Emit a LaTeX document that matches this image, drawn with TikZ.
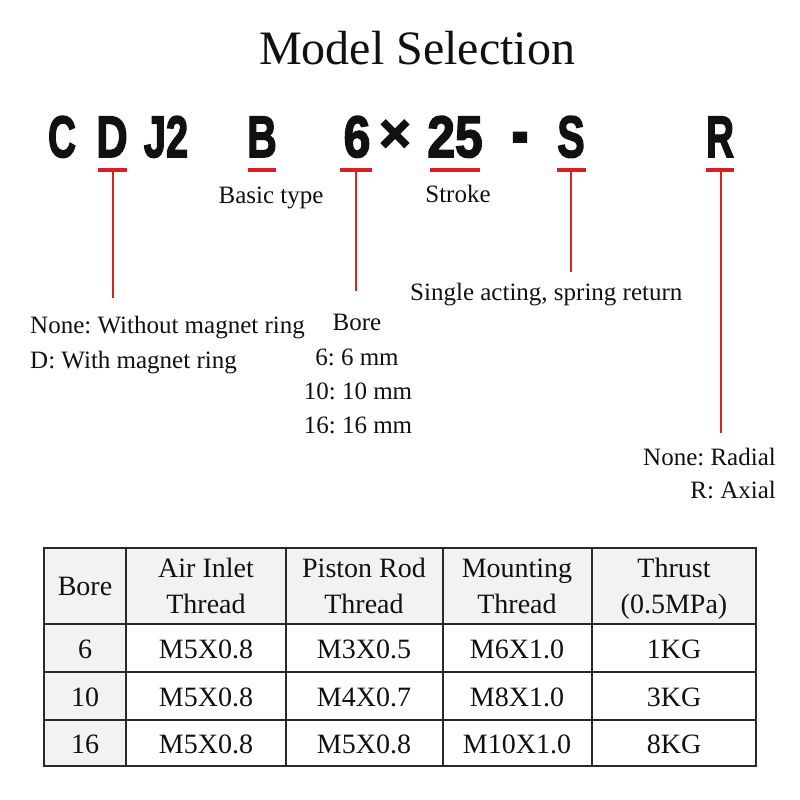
\documentclass[tikz,border=0pt]{standalone}
\usepackage{fontspec}
\setmainfont{Liberation Serif}
\newfontfamily\codefont{Liberation Sans}[BoldFeatures={FakeBold=3}]
\definecolor{linered}{RGB}{218,32,36}
\definecolor{cellgray}{RGB}{242,242,242}
\definecolor{ink}{RGB}{17,17,17}
\frenchspacing
\begin{document}
\frenchspacing
\begin{tikzpicture}[x=1pt,y=-1pt,
  lbl/.style={font=\frenchspacing\fontsize{25}{30}\selectfont, text=ink, inner sep=0pt, anchor=base},
  codech/.style={font=\codefont\bfseries\fontsize{58.5}{60}\selectfont, text=ink, inner sep=0pt, anchor=base},
  tbl/.style={font=\fontsize{28}{34}\selectfont, text=ink, inner sep=0pt, anchor=base},
  uline/.style={draw=linered, line width=3.2pt},
  vline/.style={draw=linered, line width=2.2pt},
  grid/.style={draw=ink!90, line width=1.3pt}]
\useasboundingbox (0,0) rectangle (800,800);

% title
\node[font=\fontsize{48}{56}\selectfont, text=ink, inner sep=0pt, anchor=base] (title) at (417,65) {Model Selection};

% code letters
\node[codech] (cC) at (62,157) {\scalebox{0.66}[1]{C}};
\node[codech] (cD) at (112,157) {\scalebox{0.74}[1]{D}};
\node[codech] (cJ) at (166,157) {\scalebox{0.68}[1]{J2}};
\node[codech] (cB) at (262,157) {\scalebox{0.7}[1]{B}};
\node[codech] (c6) at (357,157) {\scalebox{0.82}[1]{6}};
\node[font=\codefont\bfseries\fontsize{54}{54}\selectfont, text=ink, inner sep=0pt] (cx) at (395,136) {×};
\node[codech] (c25) at (455,157) {\scalebox{0.85}[1]{25}};
\node[codech] (cdash) at (520,157) {\scalebox{0.85}[1.3]{-}};
\node[codech] (cS) at (571,157) {\scalebox{0.7}[1]{S}};
\node[codech] (cR) at (720,157) {\scalebox{0.66}[1]{R}};

% underlines
\coordinate (uDa) at (98,170);  \coordinate (uDb) at (127,170);
\coordinate (uBa) at (248,170); \coordinate (uBb) at (276,170);
\coordinate (u6a) at (340,170); \coordinate (u6b) at (372,170);
\coordinate (u25a) at (430,170); \coordinate (u25b) at (480,170);
\coordinate (uSa) at (557,170); \coordinate (uSb) at (586,170);
\coordinate (uRa) at (706,170); \coordinate (uRb) at (734,170);
\draw[uline] (uDa) -- (uDb);
\draw[uline] (uBa) -- (uBb);
\draw[uline] (u6a) -- (u6b);
\draw[uline] (u25a) -- (u25b);
\draw[uline] (uSa) -- (uSb);
\draw[uline] (uRa) -- (uRb);

% vertical leaders
\coordinate (tD) at (113,170); \coordinate (eD) at (113,298);
\coordinate (t6) at (356,170); \coordinate (e6) at (356,291);
\coordinate (tS) at (571,170); \coordinate (eS) at (571,272);
\coordinate (tR) at (721,170); \coordinate (eR) at (721,433);
\draw[vline] (tD) -- (eD);
\draw[vline] (t6) -- (e6);
\draw[vline] (tS) -- (eS);
\draw[vline] (tR) -- (eR);

% labels
\node[lbl] (basic) at (271,203) {Basic type};
\node[lbl] (stroke) at (458,202) {Stroke};
\node[lbl, anchor=base west] (single) at (410,300) {Single acting, spring return};
\node[lbl, anchor=base west] (mag1) at (30,333) {None: Without magnet ring};
\node[lbl, anchor=base west] (mag2) at (30,368) {D: With magnet ring};
\node[lbl] (bore) at (357,330) {Bore};
\node[lbl] (b6) at (357,365) {6: 6 mm};
\node[lbl] (b10) at (358,399) {10: 10 mm};
\node[lbl] (b16) at (358,433) {16: 16 mm};
\node[lbl, anchor=base east] (rad) at (776,465) {None: Radial};
\node[lbl, anchor=base east] (ax) at (776,498) {R: Axial};

% table backgrounds
\fill[cellgray] (44,548) rectangle (756,624);
\fill[cellgray] (44,624) rectangle (126,766);
% table grid
\draw[grid] (44,548) rectangle (756,766);
\draw[grid] (44,624) -- (756,624);
\draw[grid] (44,672) -- (756,672);
\draw[grid] (44,720) -- (756,720);
\draw[grid] (126,548) -- (126,766);
\draw[grid] (286,548) -- (286,766);
\draw[grid] (443,548) -- (443,766);
\draw[grid] (592,548) -- (592,766);

% header
\node[tbl] (h1) at (85,595) {Bore};
\node[tbl] (h2a) at (206,577) {Air Inlet};
\node[tbl] (h2b) at (206,613) {Thread};
\node[tbl] (h3a) at (364,577) {Piston Rod};
\node[tbl] (h3b) at (364,613) {Thread};
\node[tbl] (h4a) at (517,577) {Mounting};
\node[tbl] (h4b) at (517,613) {Thread};
\node[tbl] (h5a) at (674,577) {Thrust};
\node[tbl] (h5b) at (674,613) {(0.5MPa)};

% rows
\node[tbl] (r1a) at (85,658) {6};
\node[tbl] (r1b) at (206,658) {M5X0.8};
\node[tbl] (r1c) at (364,658) {M3X0.5};
\node[tbl] (r1d) at (517,658) {M6X1.0};
\node[tbl] (r1e) at (674,658) {1KG};
\node[tbl] (r2a) at (85,706) {10};
\node[tbl] (r2b) at (206,706) {M5X0.8};
\node[tbl] (r2c) at (364,706) {M4X0.7};
\node[tbl] (r2d) at (517,706) {M8X1.0};
\node[tbl] (r2e) at (674,706) {3KG};
\node[tbl] (r3a) at (85,753) {16};
\node[tbl] (r3b) at (206,753) {M5X0.8};
\node[tbl] (r3c) at (364,753) {M5X0.8};
\node[tbl] (r3d) at (517,753) {M10X1.0};
\node[tbl] (r3e) at (674,753) {8KG};
\end{tikzpicture}
\end{document}
